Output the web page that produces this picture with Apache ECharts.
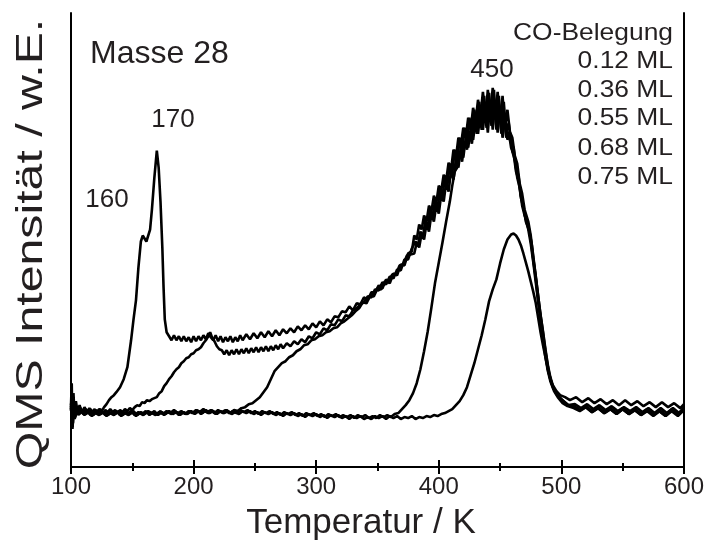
<!DOCTYPE html>
<html>
<head>
<meta charset="utf-8">
<script src="https://cdn.jsdelivr.net/npm/echarts@6/dist/echarts.min.js"></script>
<style>html,body{margin:0;padding:0;background:#fff}#c{width:707px;height:545px}</style>
</head>
<body>
<div id="c"></div>
<script>
// x: Temperatur / K, y: QMS Intensität (arbitrary units)
const xTicks = [100, 200, 300, 400, 500, 600];
const seriesNames = ['0.12 ML', '0.36 ML', '0.55 ML', '0.68 ML', '0.75 ML'];
const legendTitle = 'CO-Belegung';
const peakLabels = ['160', '170', '450'];

const cov075 = [[100,62],[100.6,84],[101.2,38],[102,74],[103,50],[104,66],[105.5,54],[107,62],[109,54],[111,60],[113,55],[115,59],[117,54],[119,58],[121,55],[123,58],[125,56],[127,60],[129,63],[131,67],[133,70],[135,72],[137,75],[140,80],[143,88],[146,100],[149,127],[151,148],[153,167],[155,200],[157,226],[158.5,232],[160,229],[161.5,226],[163,224],[164.5,238],[166,258],[168,290],[170,317],[171.5,300],[173,266],[174.5,220],[175.5,180],[176.5,148],[178,135],[180,131],[182,127],[184,132],[186,127],[188,131],[190,126],[192,131],[194,126],[196,130],[198,125],[200,131],[202,126],[204,131],[206,127],[208,132],[210,128],[212,134],[214,130],[216,127],[218,132],[220,126],[222,131],[224,125],[226,130],[228,126],[230,131],[232,125],[234,130],[236,126],[238,132],[240,127],[243,133],[246,128],[249,134],[252,129],[255,135],[258,130],[261,136],[264,131],[267,137],[270,132],[273,138],[276,134],[279,139],[282,135],[285,141],[288,137],[291,142],[294,138],[297,144],[300,140],[303,146],[306,142],[309,148],[312,145],[315,151],[318,150],[321,156],[324,155],[327,161],[330,157],[333,164],[336,163],[339,170],[342,167],[345,175],[348,175],[351,182],[354,179],[357,188],[360,184],[363,194],[366,192],[369,203],[372,202],[375,214],[378,216],[380,232],[382,228],[384,243],[386,238],[388,252],[390,246],[392,262],[394,256],[396,272],[398,265],[400,282],[402,277],[404,293],[406,287],[408,305],[410,298],[412,318],[414,310],[416,330],[418,322],[420,340],[422,330],[424,350],[426,338],[428,360],[430,346],[432,368],[434,352],[436,376],[438,350],[440,378],[442,354],[444,380],[446,348],[448,376],[450,345],[452,372],[454,340],[456,358],[458,336],[460,330],[462,312],[464,304],[466,284],[468,274],[470,258],[473,246],[475,232],[477,210],[479,192],[481,172],[483,152],[485,136],[487,118],[489,102],[491,90],[493,82],[496,76],[499,72],[503,70],[507,67],[512,70],[517,65],[522,69],[527,64],[532,68],[537,63],[542,67],[547,62],[552,67],[557,62],[562,66],[567,61],[572,65],[577,60],[582,65],[587,60],[592,64],[597,59],[600,63]];

const cov068 = [[100,58],[100.5,72],[101,46],[102,68],[103,51],[104.5,61],[106,54],[108,59],[110,54],[112,58],[114,55],[116,58],[118,54],[120,57],[122,55],[124,58],[126,54],[128,57],[130,55],[132,58],[134,55],[136,57],[138,54],[140,57],[142,55],[144,58],[146,56],[148,59],[150,57],[152,60],[154,62],[156,61],[158,65],[160,64],[162,67],[164,66],[166,68],[168,69],[170,70],[172,74],[174,76],[176,81],[178,84],[180,88],[182,91],[184,95],[186,98],[188,100],[190,104],[192,106],[194,109],[196,110],[198,113],[200,114],[202,117],[204,118],[206,120],[208,124],[210,127],[212,131],[213.5,135],[215,130],[217,126],[219,121],[221,118],[223,117],[225,113],[227,117],[229,112],[231,117],[233,113],[235,118],[237,113],[239,118],[241,114],[243,119],[245,114],[247,119],[249,115],[251,120],[253,115],[255,120],[257,116],[259,121],[261,116],[263,121],[265,117],[267,122],[269,118],[271,123],[273,119],[276,124],[279,121],[282,126],[285,123],[288,128],[291,125],[294,131],[297,129],[300,135],[303,133],[306,139],[309,137],[312,143],[315,142],[318,148],[321,146],[324,152],[327,151],[330,157],[333,159],[336,163],[339,165],[342,171],[345,170],[348,178],[351,177],[354,185],[357,183],[360,191],[363,189],[366,198],[369,197],[372,208],[375,208],[378,219],[379,218],[381,226],[383,222],[385,236],[387,230],[389,247],[391,240],[393,258],[395,250],[397,268],[399,258],[401,280],[403,270],[405,292],[407,282],[409,304],[411,294],[413,318],[415,305],[417,330],[419,315],[421,340],[423,325],[425,350],[427,334],[429,358],[431,340],[433,366],[435,345],[437,372],[439,342],[441,375],[443,345],[445,378],[447,340],[449,372],[451,338],[453,366],[455,335],[457,345],[459,325],[461,320],[463,300],[465,292],[467,272],[469,262],[471,246],[474,236],[476,222],[478,202],[480,182],[482,162],[484,144],[486,125],[488,108],[490,94],[492,84],[495,76],[498,70],[502,66],[506,62],[511,63],[516,59],[521,63],[526,58],[531,62],[536,57],[541,61],[546,56],[551,60],[556,56],[561,60],[566,55],[571,59],[576,54],[581,59],[586,54],[591,59],[596,54],[600,60]];

const cov055 = [[100,56],[100.7,68],[101.4,42],[102.2,63],[103.2,49],[104.5,59],[106,53],[108,57],[110,53],[113,56],[116,52],[119,55],[122,53],[125,56],[128,52],[131,55],[134,53],[137,56],[140,52],[143,55],[146,53],[149,56],[152,52],[155,55],[158,53],[161,56],[164,52],[167,55],[170,53],[173,56],[176,52],[179,55],[182,53],[185,56],[188,52],[191,55],[194,53],[197,56],[200,54],[203,57],[206,53],[209,56],[212,54],[215,57],[218,53],[221,56],[224,54],[227,57],[230,54],[233,57],[236,56],[239,59],[242,60],[245,63],[248,64],[251,67],[254,70],[257,75],[260,80],[263,88],[266,96],[269,100],[272,104],[275,106],[278,110],[281,112],[284,116],[287,118],[290,122],[293,123],[296,127],[299,128],[302,131],[305,132],[308,135],[311,136],[314,139],[317,140],[320,144],[323,146],[326,149],[329,152],[332,156],[335,159],[338,165],[341,164],[344,172],[347,171],[350,179],[353,178],[356,186],[359,185],[362,193],[365,193],[368,202],[371,203],[374,212],[377,213],[380,214],[382,225],[384,220],[386,234],[388,228],[390,244],[392,236],[394,254],[396,246],[398,263],[400,254],[402,273],[404,266],[406,285],[408,276],[410,297],[412,288],[414,309],[416,300],[418,321],[420,310],[422,330],[424,320],[426,339],[428,328],[430,348],[432,334],[434,356],[436,338],[438,362],[440,335],[442,366],[444,338],[446,368],[448,335],[450,362],[452,330],[454,350],[456,328],[458,334],[460,316],[462,308],[464,290],[466,280],[468,262],[470,252],[473,242],[475,228],[477,208],[479,190],[481,168],[483,150],[485,130],[487,114],[489,98],[491,88],[494,78],[497,72],[501,66],[505,62],[510,61],[515,57],[520,61],[525,56],[530,60],[535,55],[540,59],[545,54],[550,59],[555,54],[560,58],[565,53],[570,58],[575,53],[580,57],[585,52],[590,58],[595,53],[600,59]];

const cov036 = [[100,60],[100.8,74],[101.6,44],[102.5,66],[103.5,50],[105,60],[107,53],[109,57],[112,53],[115,56],[118,52],[121,56],[124,53],[127,55],[130,52],[133,55],[136,53],[139,56],[142,52],[145,55],[148,53],[151,56],[154,52],[157,55],[160,53],[163,56],[166,54],[169,52],[172,55],[175,53],[178,56],[181,54],[184,57],[187,54],[190,56],[193,53],[196,56],[199,54],[202,57],[205,55],[208,58],[211,55],[214,57],[217,54],[220,57],[223,55],[226,57],[229,54],[232,56],[235,54],[238,57],[241,55],[244,57],[247,54],[250,56],[253,53],[256,56],[259,54],[262,56],[265,53],[268,55],[271,52],[274,55],[277,53],[280,55],[283,52],[286,54],[289,51],[292,54],[295,52],[298,54],[301,51],[304,53],[307,50],[310,53],[313,51],[316,53],[319,50],[322,52],[325,50],[328,52],[331,49],[334,52],[337,50],[340,52],[343,49],[346,51],[349,49],[352,52],[355,50],[358,52],[361,50],[364,53],[367,54],[370,58],[373,62],[376,67],[379,74],[382,84],[385,98],[388,116],[391,136],[394,160],[397,185],[400,205],[403,225],[406,246],[409,266],[411,282],[413,296],[415,300],[417,316],[419,306],[421,326],[423,318],[425,336],[427,324],[429,346],[431,334],[433,354],[435,338],[437,362],[439,340],[441,366],[443,342],[445,370],[447,338],[449,364],[451,334],[453,356],[455,330],[457,336],[459,320],[461,314],[463,296],[465,288],[467,270],[469,260],[471,248],[473,238],[475,224],[477,206],[479,186],[481,166],[483,146],[485,128],[487,110],[489,96],[491,86],[494,76],[497,70],[501,64],[505,61],[510,59],[515,56],[520,60],[525,55],[530,59],[535,54],[540,58],[545,53],[550,58],[555,53],[560,57],[565,52],[570,57],[575,52],[580,56],[585,51],[590,57],[595,52],[600,58]];

const cov012 = [[100,57],[100.6,70],[101.3,40],[102.1,64],[103,48],[104.3,59],[106,52],[108,56],[111,52],[114,55],[117,51],[120,54],[123,52],[126,55],[129,51],[132,54],[135,52],[138,55],[141,51],[144,54],[147,52],[150,55],[153,51],[156,54],[159,52],[162,55],[165,53],[168,56],[171,52],[174,55],[177,53],[180,56],[183,53],[186,55],[189,52],[192,55],[195,53],[198,56],[201,53],[204,56],[207,54],[210,57],[213,54],[216,56],[219,53],[222,56],[225,54],[228,56],[231,53],[234,55],[237,53],[240,56],[243,54],[246,56],[249,53],[252,55],[255,52],[258,55],[261,53],[264,55],[267,52],[270,54],[273,51],[276,54],[279,52],[282,54],[285,51],[288,53],[291,50],[294,53],[297,51],[300,53],[303,50],[306,52],[309,49],[312,52],[315,50],[318,52],[321,49],[324,51],[327,48],[330,51],[333,49],[336,51],[339,48],[342,50],[345,48],[348,51],[351,49],[354,51],[357,48],[360,51],[363,49],[366,51],[369,48],[372,50],[375,49],[378,51],[381,48],[384,50],[387,49],[390,51],[393,50],[396,52],[399,51],[402,53],[405,54],[408,56],[411,58],[414,62],[417,66],[420,72],[423,80],[426,92],[429,104],[432,118],[435,132],[438,148],[441,166],[444,178],[447,188],[450,204],[453,218],[456,228],[459,233],[461,234],[463,232],[465,228],[467,222],[469,214],[471,205],[473,196],[475,186],[477,176],[479,165],[481,150],[483,135],[485,122],[487,110],[489,98],[491,88],[493,80],[496,73],[500,68],[505,62],[510,61],[515,57],[520,60],[525,55],[530,59],[535,54],[540,58],[545,53],[550,58],[555,53],[560,57],[565,52],[570,56],[575,51],[580,56],[585,51],[590,56],[595,51],[600,57]];

const seriesData = [cov012, cov036, cov055, cov068, cov075];

const FONT = 'Liberation Sans, Arial, Helvetica, sans-serif';
const TXT = '#231f20';
const chart = echarts.init(document.getElementById('c'), null, {renderer: 'canvas'});

const axisLineStyle = {color: '#000', width: 2};
const graphics = [
  {type: 'text', x: 90, y: 54, style: {text: 'Masse 28', font: '32px ' + FONT, fill: TXT, textAlign: 'left', textVerticalAlign: 'middle'}},
  {type: 'text', x: 107, y: 200, style: {text: peakLabels[0], font: '26px ' + FONT, fill: TXT, textAlign: 'center', textVerticalAlign: 'middle'}},
  {type: 'text', x: 173, y: 120, style: {text: peakLabels[1], font: '26px ' + FONT, fill: TXT, textAlign: 'center', textVerticalAlign: 'middle'}},
  {type: 'text', x: 492, y: 70, style: {text: peakLabels[2], font: '26px ' + FONT, fill: TXT, textAlign: 'center', textVerticalAlign: 'middle'}},
  {type: 'text', x: 361, y: 523, style: {text: 'Temperatur / K', font: '35px ' + FONT, fill: TXT, textAlign: 'center', textVerticalAlign: 'middle'}},
  {type: 'text', x: 32, y: 244, rotation: Math.PI / 2, scaleX: 1.34, style: {text: 'QMS Intensität / w.E.', font: '36px ' + FONT, fill: TXT, textAlign: 'center', textVerticalAlign: 'middle'}},
  {type: 'text', x: 673, y: 33, scaleX: 1.1, style: {text: legendTitle, font: '24px ' + FONT, fill: TXT, textAlign: 'right', textVerticalAlign: 'middle'}}
];
const legendY = [61, 90, 118, 148, 177];
seriesNames.forEach((n, i) => {
  graphics.push({type: 'text', x: 673, y: legendY[i], scaleX: 1.1, style: {text: n, font: '24px ' + FONT, fill: TXT, textAlign: 'right', textVerticalAlign: 'middle'}});
});

chart.setOption({
  animation: false,
  backgroundColor: '#fff',
  grid: {left: 71, right: 22, top: 13, bottom: 78, show: false},
  xAxis: [
    {type: 'value', min: xTicks[0], max: xTicks[xTicks.length - 1], interval: 100, position: 'bottom',
     axisLine: {show: true, lineStyle: axisLineStyle},
     axisTick: {show: true, inside: true, length: 7, lineStyle: {color: '#000', width: 2}},
     minorTick: {show: true, splitNumber: 2, length: 4, lineStyle: {color: '#000', width: 2}},
     splitLine: {show: false},
     axisLabel: {show: true, margin: 8, fontSize: 24, fontFamily: FONT, color: TXT}},
    {type: 'value', min: xTicks[0], max: xTicks[xTicks.length - 1], interval: 100, position: 'top',
     axisLine: {show: true, lineStyle: axisLineStyle},
     axisTick: {show: true, inside: true, length: 7, lineStyle: {color: '#000', width: 2}},
     minorTick: {show: true, splitNumber: 2, length: 4, lineStyle: {color: '#000', width: 2}},
     splitLine: {show: false},
     axisLabel: {show: false}}
  ],
  yAxis: [
    {type: 'value', min: 0, max: 455, position: 'left',
     axisLine: {show: true, lineStyle: axisLineStyle}, axisTick: {show: false}, axisLabel: {show: false}, splitLine: {show: false}},
    {type: 'value', min: 0, max: 455, position: 'right',
     axisLine: {show: true, lineStyle: axisLineStyle}, axisTick: {show: false}, axisLabel: {show: false}, splitLine: {show: false}}
  ],
  graphic: graphics,
  series: seriesData.map((d, i) => ({
    name: seriesNames[i], type: 'line', data: d, xAxisIndex: 0, yAxisIndex: 0,
    showSymbol: false, symbol: 'none', smooth: false,
    lineStyle: {color: '#000', width: 2.6}, z: 2
  }))
});
</script>
</body>
</html>
